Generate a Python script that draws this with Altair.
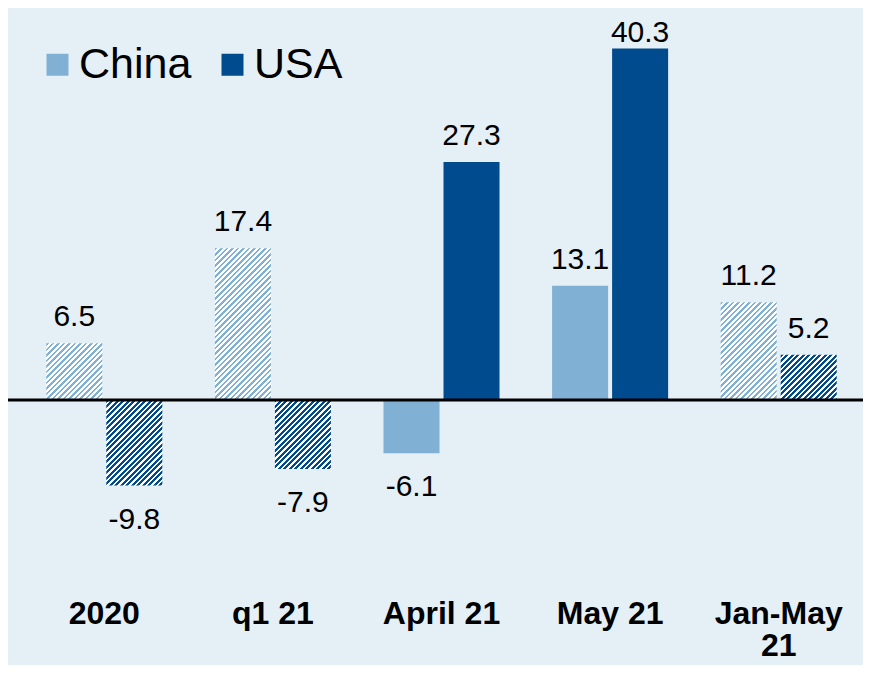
import altair as alt
import pandas as pd

# ---- data ----
categories = ["2020", "q1 21", "April 21", "May 21", "Jan-May 21"]
series_names = ["China", "USA"]
china = [6.5, 17.4, -6.1, 13.1, 11.2]
usa = [-9.8, -7.9, 27.3, 40.3, 5.2]
hatched = [True, True, False, False, True]   # shaded (hatched) periods

# ---- styling ----
COL = {"China": "#80b1d4", "USA": "#004b8d"}
PANEL = "#e5eff6"
FONT = "Liberation Sans"
W, H = 855, 657
YDOM = [-30.39, 44.954]
PX = H / (YDOM[1] - YDOM[0])  # pixels per unit
BAR_W = 56

rows = []
for i, c in enumerate(categories):
    for s, vals in (("China", china), ("USA", usa)):
        rows.append({"cat": c, "series": s, "value": vals[i], "hatch": hatched[i]})
df = pd.DataFrame(rows)
solid_df = df[~df["hatch"]].reset_index(drop=True)
zero_df = pd.DataFrame({"zero": [0.0]})

xaxis = alt.Axis(
    title=None, orient="bottom", domain=False, ticks=False, tickSize=0, grid=False,
    offset=-42, labelPadding=0, labelBaseline="alphabetic",
    labelAngle=0, labelFontSize=32, labelFont=FONT, labelFontWeight="bold",
    labelColor="#000000", labelLineHeight=32, labelLimit=300,
    labelExpr="datum.value == 'Jan-May 21' ? ['Jan-May', '21'] : datum.label",
)
xscale = alt.Scale(domain=categories, paddingInner=0, paddingOuter=0.0356, align=1)
xoff = alt.Scale(domain=series_names, paddingInner=1 / 15, paddingOuter=0.438)
yscale = alt.Scale(domain=YDOM, nice=False, zero=False)
cscale = alt.Scale(domain=series_names, range=[COL["China"], COL["USA"]])

X = alt.X("cat:N", scale=xscale, axis=xaxis)
XO = alt.XOffset("series:N", scale=xoff)
Y = alt.Y("value:Q", scale=yscale, axis=None, stack=None)


def hatch(color, value, w=BAR_W, ph=5.5, frac=0.5):
    h = abs(value) * PX
    L = w + h
    n = L / ph
    a = w * L / (w * w + h * h)
    b = h * L / (w * w + h * h)
    stops = []
    k = 0
    while k < n:
        s0 = k / n
        s1 = min((k + frac) / n, 1.0)
        s2 = min((k + 1) / n, 1.0)
        stops += [
            {"offset": round(s0, 5), "color": color},
            {"offset": round(s1, 5), "color": color},
            {"offset": round(s1, 5), "color": "#ffffff"},
            {"offset": round(s2, 5), "color": "#ffffff"},
        ]
        k += 1
    return {"gradient": "linear", "x1": 0, "y1": 0, "x2": round(a, 5),
            "y2": round(b, 5), "stops": stops}


legend = alt.Legend(
    title=None, orient="none", legendX=28, legendY=35, direction="horizontal",
    symbolType="square", symbolSize=484, symbolStrokeWidth=0,
    labelFontSize=43, labelFont=FONT, labelColor="#000000",
    labelOffset=0, columnPadding=19,
)

layers = [
    alt.Chart(solid_df).mark_bar().encode(
        x=X, xOffset=XO, y=Y,
        color=alt.Color("series:N", scale=cscale, legend=legend),
    )
]

for j in range(len(df)):
    if not df.loc[j, "hatch"]:
        continue
    g = hatch(COL[df.loc[j, "series"]], df.loc[j, "value"])
    one = df.iloc[[j]].reset_index(drop=True)
    layers.append(
        alt.Chart(one).mark_bar(color=g).encode(x=X, xOffset=XO, y=Y)
    )

layers.append(
    alt.Chart(zero_df).mark_rule(color="#000000", strokeWidth=3).encode(
        y=alt.Y("zero:Q", scale=yscale, axis=None)
    )
)

layers.append(
    alt.Chart(df).transform_calculate(
        ly="datum.value >= 0 ? min(datum.value + 1.95, 41.1) : datum.value - 4.95",
        txt="(datum.value < 0 ? '-' : '') + format(abs(datum.value), '.1f')",
    ).mark_text(fontSize=30, font=FONT, color="#000000", baseline="alphabetic").encode(
        x=X, xOffset=XO, y=alt.Y("ly:Q", scale=yscale, axis=None), text="txt:N"
    )
)

chart = alt.layer(*layers).properties(
    width=W, height=H, padding=0, autosize="none",
).configure(background=PANEL).configure_view(fill=PANEL, strokeWidth=0)

chart.save("out.html", embed_options={"renderer": "svg", "actions": False})
